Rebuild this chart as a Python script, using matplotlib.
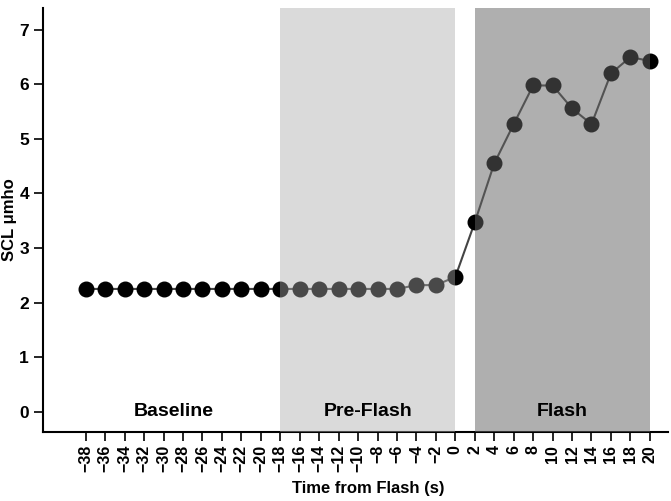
import matplotlib
matplotlib.use("Agg")
import matplotlib.pyplot as plt

plt.rcParams['font.family'] = ['Liberation Sans', 'DejaVu Sans']
plt.rcParams['axes.unicode_minus'] = True

time_s = [-38, -36, -34, -32, -30, -28, -26, -24, -22, -20,
          -18, -16, -14, -12, -10, -8, -6, -4, -2, 0,
          2, 4, 6, 8, 10, 12, 14, 16, 18, 20]
scl = [2.25, 2.25, 2.25, 2.25, 2.25, 2.25, 2.25, 2.25, 2.25, 2.25,
       2.25, 2.25, 2.25, 2.25, 2.25, 2.25, 2.25, 2.32, 2.32, 2.47,
       3.47, 4.55, 5.27, 5.98, 5.98, 5.56, 5.27, 6.20, 6.50, 6.43]
periods = ["Baseline", "Pre-Flash", "Flash"]
period_start = [-38, -18, 2]
period_end = [-20, 0, 20]
period_label_x = [-29, -9, 11]
xticks = list(range(-38, 21, 2))
yticks = list(range(0, 8))

fig = plt.figure(figsize=(6.71, 5.01), dpi=100)
ax = fig.add_axes([0.064, 0.138, 0.932, 0.846])

ax.plot(time_s, scl, color='#444444', lw=1.5, marker='o', markersize=10.5,
        markerfacecolor='black', markeredgecolor='black', zorder=2)

# translucent shading drawn over the data
ax.axvspan(period_start[1], period_end[1], color=(0.667, 0.667, 0.667), alpha=0.43,
           lw=0, zorder=3)
ax.axvspan(period_start[2], period_end[2], color=(0.39, 0.39, 0.39), alpha=0.51,
           lw=0, zorder=3)

for lab, xc in zip(periods, period_label_x):
    ax.text(xc, 0, lab, ha='center', va='center', fontsize=14,
            fontweight='bold', zorder=4)

ax.set_xlim(-42.4, 21.9)
ax.set_ylim(-0.37, 7.4)
ax.set_xticks(xticks)
ax.set_xticklabels([f"\u2212{abs(t)}" if t < 0 else str(t) for t in xticks],
                   rotation=90, fontsize=11.5, fontweight='bold')
ax.set_yticks(yticks)
ax.set_yticklabels([str(v) for v in yticks], fontsize=12.5, fontweight='bold')
ax.tick_params(axis='both', direction='out', length=6.5, width=1.2, color='black')
ax.tick_params(axis='x', pad=3)
for s in ['top', 'right']:
    ax.spines[s].set_visible(False)
for s in ['left', 'bottom']:
    ax.spines[s].set_linewidth(1.5)

ax.set_xlabel("Time from Flash (s)", fontsize=12, fontweight='bold', labelpad=6)
ax.xaxis.set_label_coords(0.52, -0.117)
ax.set_ylabel("SCL \u03bcmho", fontsize=12, fontweight='bold', labelpad=2)

fig.savefig("out.png", dpi=100)
